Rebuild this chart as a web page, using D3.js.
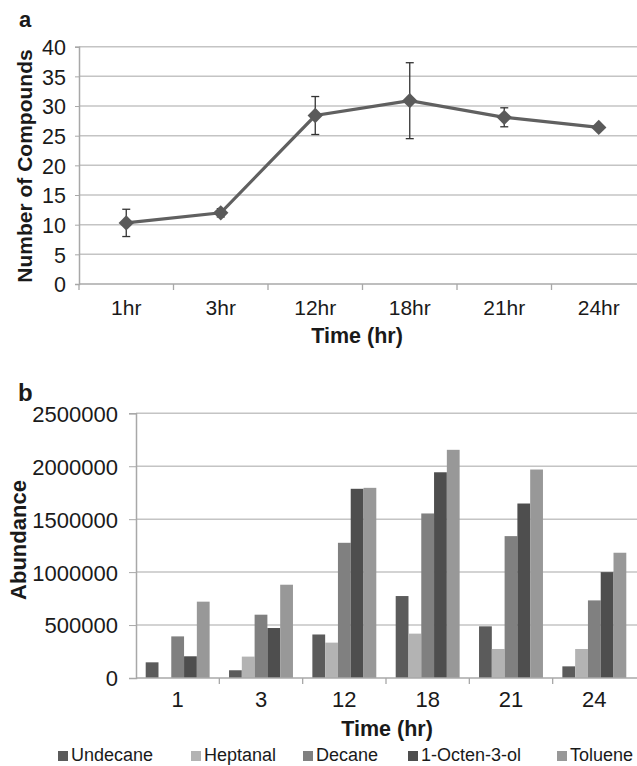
<!DOCTYPE html>
<html><head><meta charset="utf-8">
<script src="https://cdn.jsdelivr.net/npm/d3@7"></script>
<style>body{margin:0;background:#fff}svg{display:block}text{font-family:"Liberation Sans",Arial,sans-serif}</style>
</head><body><svg id="c" width="637" height="766"></svg>
<script>
// Panel a data
const timesA = ["1hr","3hr","12hr","18hr","21hr","24hr"];
const compounds = [10.3, 12.0, 28.4, 30.9, 28.1, 26.4];
const compoundsErr = [2.3, 0.7, 3.2, 6.4, 1.6, 0.3];
const ticksA = [0,5,10,15,20,25,30,35,40];

// Panel b data
const timesB = ["1","3","12","18","21","24"];
const seriesNames = ["Undecane","Heptanal","Decane","1-Octen-3-ol","Toluene"];
const undecane = [148000, 73000, 411000, 774000, 488000, 110000];
const heptanal = [0, 202000, 334000, 419000, 274000, 274000];
const decane = [393000, 598000, 1277000, 1554000, 1340000, 733000];
const octenol = [205000, 472000, 1787000, 1943000, 1648000, 1000000];
const toluene = [721000, 881000, 1796000, 2155000, 1969000, 1183000];
const ticksB = [0,500000,1000000,1500000,2000000,2500000];
const colors = ["#5b5b5b","#b3b3b3","#808080","#4e4e4e","#989898"];

const svg = d3.select("#c");
const gridC = "#c4c4c4", axisC = "#a8a8a8", txt = "#1a1a1a";

// ---------- Panel a ----------
const xa = d3.scaleBand().domain(timesA).range([79, 646]);
const ya = d3.scaleLinear().domain([0,40]).range([284, 46.7]);
const ga = svg.append("g");
ga.selectAll(".grid").data(ticksA.slice(1)).join("line")
  .attr("x1",79).attr("x2",646).attr("y1",d=>ya(d)).attr("y2",d=>ya(d))
  .attr("stroke",gridC).attr("stroke-width",1.5);
const axA = ga.append("g").attr("transform","translate(0,284)")
  .call(d3.axisBottom(xa).tickSize(0).tickPadding(0));
axA.select(".domain").remove();
axA.selectAll("text").attr("font-size",21).attr("fill",txt).attr("dy",0).attr("y",31);
ga.append("line").attr("x1",79).attr("x2",646).attr("y1",284).attr("y2",284).attr("stroke",axisC).attr("stroke-width",1.5);
ga.selectAll(".xt").data(timesA).join("line")
  .attr("x1",d=>xa(d)).attr("x2",d=>xa(d)).attr("y1",284).attr("y2",290)
  .attr("stroke",axisC).attr("stroke-width",1.3);
const ayA = ga.append("g").attr("transform","translate(79,0)")
  .call(d3.axisLeft(ya).tickValues(ticksA).tickSize(4).tickPadding(9));
ayA.select(".domain").attr("stroke",axisC).attr("stroke-width",1.5);
ayA.selectAll(".tick line").attr("stroke",axisC);
ayA.selectAll("text").attr("font-size",21.5).attr("fill",txt).attr("dy","0.36em");

const ptsA = timesA.map((t,i)=>({x:xa(t)+xa.bandwidth()/2, y:compounds[i], e:compoundsErr[i]}));
// error bars
ptsA.forEach(p=>{
  const y1 = ya(p.y+p.e), y2 = ya(p.y-p.e);
  ga.append("line").attr("x1",p.x).attr("x2",p.x).attr("y1",y1).attr("y2",y2).attr("stroke","#333").attr("stroke-width",1.3);
  [y1,y2].forEach(yy=>ga.append("line").attr("x1",p.x-4).attr("x2",p.x+4).attr("y1",yy).attr("y2",yy).attr("stroke","#333").attr("stroke-width",1.3));
});
ga.append("path").datum(ptsA)
  .attr("d", d3.line().x(d=>d.x).y(d=>ya(d.y)))
  .attr("fill","none").attr("stroke","#606060").attr("stroke-width",3.2);
ga.selectAll(".mk").data(ptsA).join("path")
  .attr("transform",d=>`translate(${d.x},${ya(d.y)})`)
  .attr("d", d3.symbol(d3.symbolDiamond2, 150)())
  .attr("fill","#5a5a5a");

svg.append("text").attr("x",19).attr("y",27).attr("font-size",22).attr("font-weight","bold").attr("fill",txt).text("a");
svg.append("text").attr("transform","translate(32,166) rotate(-90)").attr("text-anchor","middle")
  .attr("font-size",21).attr("font-weight","bold").attr("fill",txt).text("Number of Compounds");
svg.append("text").attr("x",357).attr("y",343).attr("text-anchor","middle")
  .attr("font-size",21.5).attr("font-weight","bold").attr("fill",txt).text("Time (hr)");

// ---------- Panel b ----------
const xb = d3.scaleBand().domain(timesB).range([136, 636]);
const xs = d3.scaleBand().domain(seriesNames).range([9.7, xb.bandwidth()-9.7]);
const yb = d3.scaleLinear().domain([0,2500000]).range([678, 413.3]);
const gb = svg.append("g");
gb.selectAll(".grid").data(ticksB.slice(1)).join("line")
  .attr("x1",136).attr("x2",637).attr("y1",d=>yb(d)).attr("y2",d=>yb(d))
  .attr("stroke",gridC).attr("stroke-width",1.5);
const seriesVals = [undecane, heptanal, decane, octenol, toluene];
seriesNames.forEach((s,si)=>{
  gb.append("g").selectAll("rect").data(timesB.map((t,i)=>({t, v:seriesVals[si][i]}))).join("rect")
    .attr("x",d=>xb(d.t)+xs(s)).attr("width",xs.bandwidth())
    .attr("y",d=>yb(d.v)).attr("height",d=>yb(0)-yb(d.v))
    .attr("fill",colors[si]);
});
gb.append("line").attr("x1",136).attr("x2",637).attr("y1",678).attr("y2",678).attr("stroke",axisC).attr("stroke-width",1.5);
gb.selectAll(".xt").data(timesB.slice(1)).join("line")
  .attr("x1",d=>xb(d)).attr("x2",d=>xb(d)).attr("y1",678).attr("y2",684)
  .attr("stroke",axisC).attr("stroke-width",1.3);
const axB = gb.append("g").attr("transform","translate(0,678)")
  .call(d3.axisBottom(xb).tickSize(0).tickPadding(0));
axB.select(".domain").remove();
axB.selectAll("text").attr("font-size",22).attr("fill",txt).attr("dy",0).attr("y",29);
const ayB = gb.append("g").attr("transform","translate(136,0)")
  .call(d3.axisLeft(yb).tickValues(ticksB).tickFormat(d3.format("d")).tickSize(7).tickPadding(11));
ayB.select(".domain").attr("stroke",axisC).attr("stroke-width",1.5);
ayB.selectAll(".tick line").attr("stroke",axisC);
ayB.selectAll("text").attr("font-size",22).attr("fill",txt).attr("dy","0.36em");

svg.append("text").attr("x",18).attr("y",401).attr("font-size",24).attr("font-weight","bold").attr("fill",txt).text("b");
svg.append("text").attr("transform","translate(26,540) rotate(-90)").attr("text-anchor","middle")
  .attr("font-size",22).attr("font-weight","bold").attr("fill",txt).text("Abundance");
svg.append("text").attr("x",387).attr("y",736).attr("text-anchor","middle")
  .attr("font-size",21.5).attr("font-weight","bold").attr("fill",txt).text("Time (hr)");

// legend
const legX = [58, 191, 303, 408, 557];
const lg = svg.append("g");
seriesNames.forEach((s,i)=>{
  lg.append("rect").attr("x",legX[i]).attr("y",751).attr("width",10).attr("height",10).attr("fill",colors[i]);
  lg.append("text").attr("x",legX[i]+13).attr("y",761).attr("font-size",18).attr("fill",txt).text(s);
});
</script></body></html>
